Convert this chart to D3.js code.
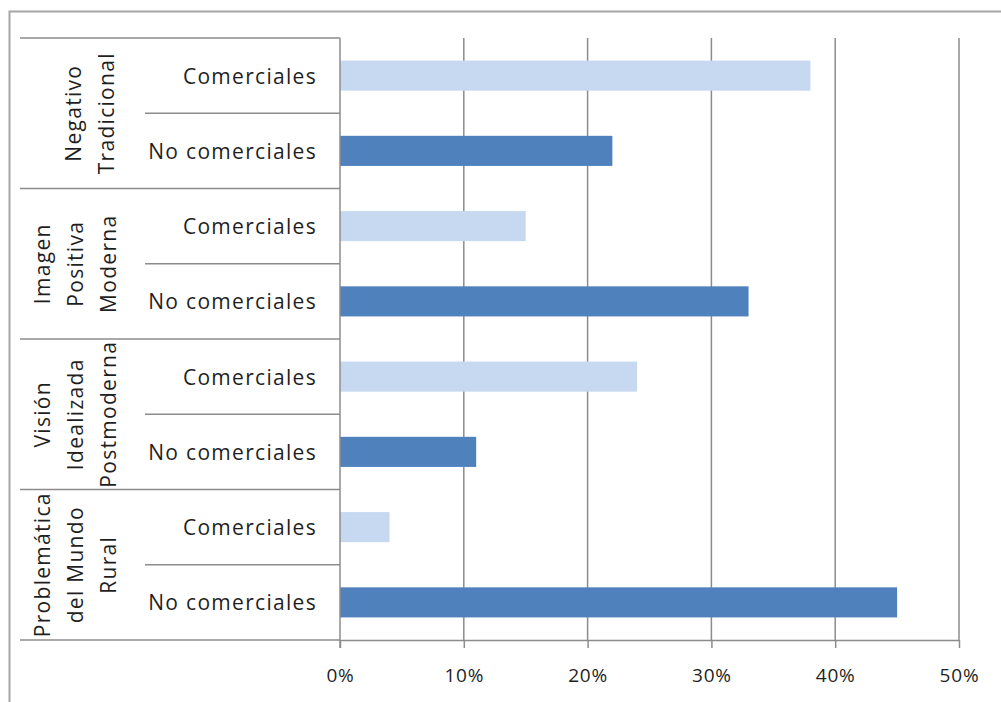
<!DOCTYPE html>
<html>
<head>
<meta charset="utf-8">
<script src="https://cdn.jsdelivr.net/npm/d3@7"></script>
<style>
  html, body { margin: 0; padding: 0; background: #fff; }
  svg { display: block; }
  text { font-family: "Open Sans", sans-serif; fill: #1f1f1f; }
</style>
</head>
<body>
<svg id="chart" width="1001" height="702"></svg>
<script>
const groups = [
  ["Negativo", "Tradicional"],
  ["Imagen", "Positiva", "Moderna"],
  ["Visión", "Idealizada", "Postmoderna"],
  ["Problemática", "del Mundo", "Rural"]
];
const seriesLabels = ["Comerciales", "No comerciales"];
const comerciales = [38, 15, 24, 4];
const noComerciales = [22, 33, 11, 45];
const tickValues = [0, 10, 20, 30, 40, 50];

const rows = [];
groups.forEach((g, gi) => {
  rows.push({ group: gi, label: seriesLabels[0], value: comerciales[gi], type: 0 });
  rows.push({ group: gi, label: seriesLabels[1], value: noComerciales[gi], type: 1 });
});

const svg = d3.select("#chart");
const colors = ["#C6D9F1", "#4F81BD"];
const lineColor = "#8c8c8c";

const plotTop = 38, plotBottom = 640;
const x = d3.scaleLinear().domain([0, 50]).range([340, 959]);
const y = d3.scaleBand().domain(d3.range(rows.length)).range([plotTop, plotBottom]);
const bw = y.bandwidth();
const barH = bw * 0.4;

// outer frame
svg.append("path").attr("d", "M9.5,702 V11.5 H1001")
  .attr("fill", "none").attr("stroke", "#a6a6a6").attr("stroke-width", 2);

// gridlines
svg.append("g").selectAll("line").data(tickValues.slice(1)).join("line")
  .attr("x1", d => x(d)).attr("x2", d => x(d))
  .attr("y1", plotTop).attr("y2", plotBottom)
  .attr("stroke", lineColor).attr("stroke-width", 1.5);

// bars
svg.append("g").selectAll("rect").data(rows).join("rect")
  .attr("x", x(0))
  .attr("y", (d, i) => y(i) + (bw - barH) / 2)
  .attr("width", d => x(d.value) - x(0))
  .attr("height", barH)
  .attr("fill", d => colors[d.type]);

// x axis
const xAxis = d3.axisBottom(x).tickValues(tickValues).tickFormat(d => d + "%").tickSize(8).tickSizeOuter(0);
const gx = svg.append("g").attr("transform", `translate(0,${plotBottom})`).call(xAxis);
gx.select(".domain").attr("stroke", lineColor).attr("stroke-width", 1.5);
gx.selectAll(".tick line").attr("stroke", lineColor).attr("stroke-width", 1.5);
gx.selectAll(".tick text").attr("font-size", 19).attr("font-family", "Open Sans, sans-serif")
  .attr("fill", "#1f1f1f").attr("dy", "1.65em").style("letter-spacing", "0.8px");

// category axis vertical line
svg.append("line").attr("x1", x(0)).attr("x2", x(0)).attr("y1", plotTop).attr("y2", plotBottom + 8)
  .attr("stroke", lineColor).attr("stroke-width", 1.5);

// row separators
const sep = svg.append("g");
d3.range(rows.length + 1).forEach(i => {
  const yy = i < rows.length ? y(i) : plotBottom;
  const isGroup = i % 2 === 0;
  sep.append("line")
    .attr("x1", isGroup ? 20 : 145).attr("x2", x(0))
    .attr("y1", yy).attr("y2", yy)
    .attr("stroke", lineColor).attr("stroke-width", 1.5);
});

// series labels
svg.append("g").selectAll("text").data(rows).join("text")
  .attr("x", 317)
  .attr("y", (d, i) => y(i) + bw / 2)
  .attr("text-anchor", "end")
  .attr("dominant-baseline", "central")
  .attr("font-size", 21)
  .style("letter-spacing", "1.3px")
  .text(d => d.label);

// group labels (rotated, multiline)
groups.forEach((g, gi) => {
  const cy = (y(gi * 2) + y(gi * 2) + 2 * bw) / 2;
  const lineGap = 33;
  const cx = g.length === 2 ? 89 : 75;
  g.forEach((line, li) => {
    const lx = cx + (li - (g.length - 1) / 2) * lineGap;
    svg.append("text")
      .attr("transform", `translate(${lx},${cy}) rotate(-90)`)
      .attr("text-anchor", "middle")
      .attr("dominant-baseline", "central")
      .attr("font-size", 21)
      .style("letter-spacing", "1.3px")
      .text(line);
  });
});
</script>
</body>
</html>
